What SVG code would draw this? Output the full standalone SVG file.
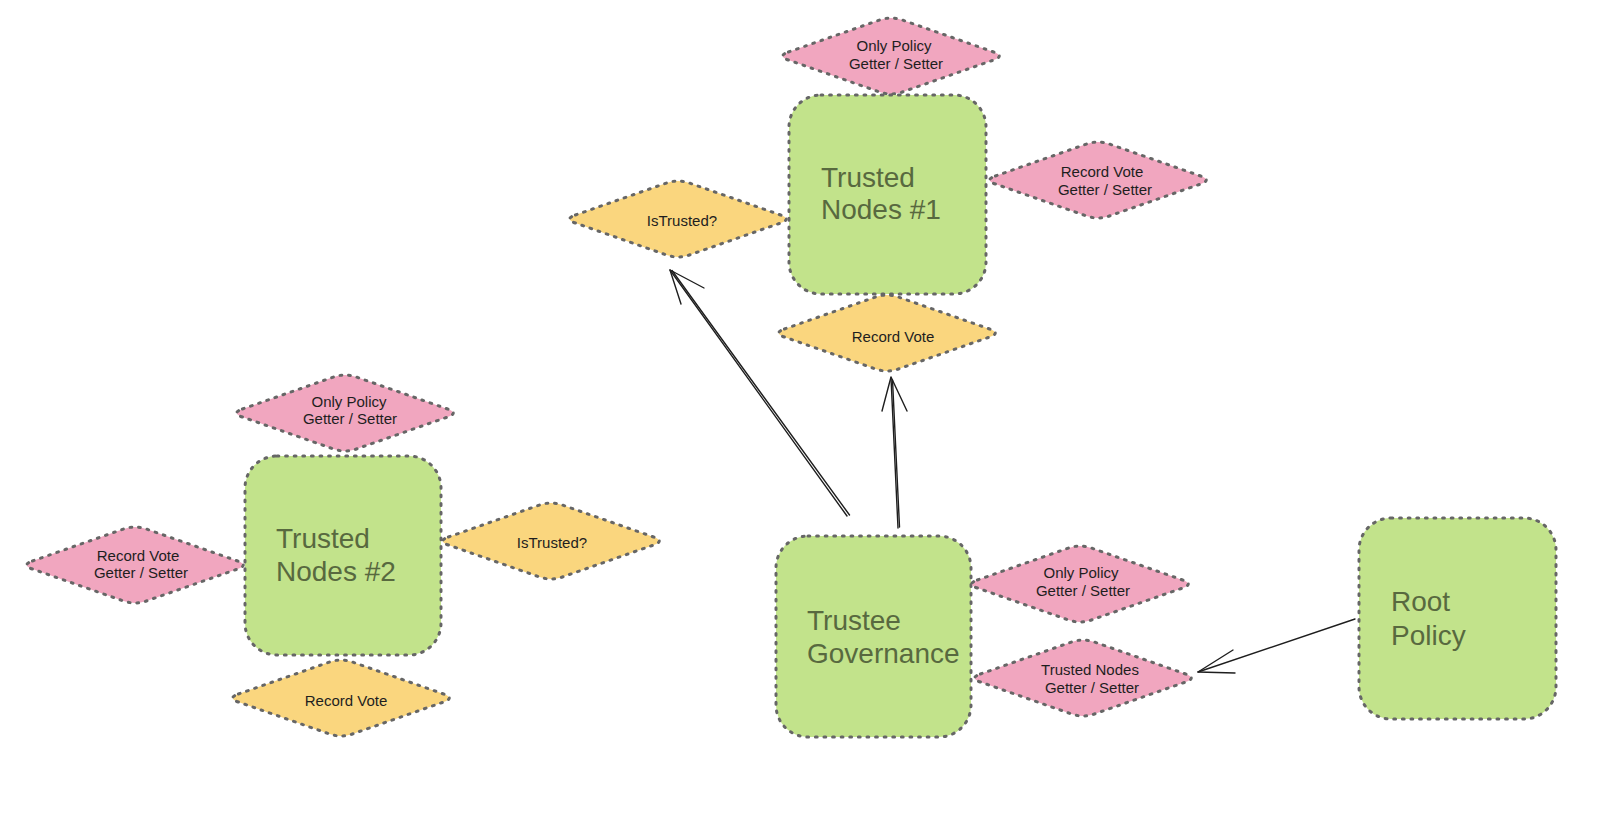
<svg xmlns="http://www.w3.org/2000/svg" xmlns:xlink="http://www.w3.org/1999/xlink" width="1600" height="820" viewBox="0 0 1600 820">
  <style>
    .box { fill: #c2e38b; stroke: #666666; stroke-width: 3; stroke-dasharray: 1.8 6.8; stroke-linecap: round; }
    .pink { fill: #f1a6bf; stroke: #666666; stroke-width: 3; stroke-dasharray: 1.8 6.8; stroke-linecap: round; }
    .yellow { fill: #fad67e; stroke: #666666; stroke-width: 3; stroke-dasharray: 1.8 6.8; stroke-linecap: round; }
    .big { font-family: "Liberation Sans", Arial, sans-serif; font-size: 28px; fill: #58693f; }
    .small { font-family: "Liberation Sans", Arial, sans-serif; font-size: 15px; fill: #1e1e1e; text-anchor: middle; }
    .edge { fill: none; stroke: #1e1e1e; stroke-width: 1.4; stroke-linecap: round; stroke-linejoin: round; }
  </style>
  <defs>
    <!-- rounded diamond centred on the origin -->
    <path id="dia" d="M -102.6,-4 L -11.4,-36 Q 0,-40 11.4,-36 L 102.6,-4 Q 114,0 102.6,4 L 11.4,36 Q 0,40 -11.4,36 L -102.6,4 Q -114,0 -102.6,-4 Z"/>
  </defs>
  <rect width="1600" height="820" fill="#ffffff"/>

  <!-- connectors -->
  <g id="connectors">
    <g id="gov-to-istrusted">
      <path class="edge" d="M 847,516 L 670,270"/>
      <path class="edge" d="M 849.5,515 L 672,270.5"/>
      <path class="edge" d="M 670,270 L 704,288 M 670,270 L 681,304"/>
    </g>
    <g id="gov-to-recordvote">
      <path class="edge" d="M 898,528 L 891,378"/>
      <path class="edge" d="M 899.5,527 L 892.5,380"/>
      <path class="edge" d="M 891,377 L 882,411 M 891,377 L 907,411"/>
    </g>
    <g id="root-to-trustednodes">
      <path class="edge" d="M 1355,619 L 1198,672"/>
      <path class="edge" d="M 1198,672 L 1233,650 M 1198,672 L 1235,673"/>
    </g>
  </g>

  <!-- Trusted Nodes #1 cluster -->
  <g id="only-policy-1">
    <use xlink:href="#dia" class="pink" transform="translate(891,56)"/>
    <text class="small" x="894" y="51">Only Policy</text>
    <text class="small" x="896" y="69">Getter / Setter</text>
  </g>
  <g id="trusted-nodes-1">
    <rect class="box" x="789" y="95" width="197" height="199" rx="32"/>
    <text class="big" x="821" y="187">Trusted</text>
    <text class="big" x="821" y="219">Nodes #1</text>
  </g>
  <g id="record-vote-gs-1">
    <use xlink:href="#dia" class="pink" transform="translate(1098,180)"/>
    <text class="small" x="1102" y="177">Record Vote</text>
    <text class="small" x="1105" y="195">Getter / Setter</text>
  </g>
  <g id="istrusted-1">
    <use xlink:href="#dia" class="yellow" transform="translate(678,219)"/>
    <text class="small" x="682" y="226">IsTrusted?</text>
  </g>
  <g id="record-vote-1">
    <use xlink:href="#dia" class="yellow" transform="translate(887,333)"/>
    <text class="small" x="893" y="342">Record Vote</text>
  </g>

  <!-- Trusted Nodes #2 cluster -->
  <g id="only-policy-2">
    <use xlink:href="#dia" class="pink" transform="translate(345,413)"/>
    <text class="small" x="349" y="407">Only Policy</text>
    <text class="small" x="350" y="424">Getter / Setter</text>
  </g>
  <g id="trusted-nodes-2">
    <rect class="box" x="245" y="456" width="196" height="199" rx="32"/>
    <text class="big" x="276" y="548">Trusted</text>
    <text class="big" x="276" y="581">Nodes #2</text>
  </g>
  <g id="record-vote-gs-2">
    <use xlink:href="#dia" class="pink" transform="translate(135,565)"/>
    <text class="small" x="138" y="561">Record Vote</text>
    <text class="small" x="141" y="578">Getter / Setter</text>
  </g>
  <g id="istrusted-2">
    <use xlink:href="#dia" class="yellow" transform="translate(551,541)"/>
    <text class="small" x="552" y="548">IsTrusted?</text>
  </g>
  <g id="record-vote-2">
    <use xlink:href="#dia" class="yellow" transform="translate(341,698)"/>
    <text class="small" x="346" y="706">Record Vote</text>
  </g>

  <!-- Trustee Governance cluster -->
  <g id="trustee-governance">
    <rect class="box" x="776" y="536" width="195" height="201" rx="32"/>
    <text class="big" x="807" y="630">Trustee</text>
    <text class="big" x="807" y="663">Governance</text>
  </g>
  <g id="only-policy-gov">
    <use xlink:href="#dia" class="pink" transform="translate(1080,584)"/>
    <text class="small" x="1081" y="578">Only Policy</text>
    <text class="small" x="1083" y="596">Getter / Setter</text>
  </g>
  <g id="trusted-nodes-gs">
    <use xlink:href="#dia" class="pink" transform="translate(1083,678)"/>
    <text class="small" x="1090" y="675">Trusted Nodes</text>
    <text class="small" x="1092" y="693">Getter / Setter</text>
  </g>

  <!-- Root Policy -->
  <g id="root-policy">
    <rect class="box" x="1359" y="518" width="197" height="201" rx="32"/>
    <text class="big" x="1391" y="611">Root</text>
    <text class="big" x="1391" y="645">Policy</text>
  </g>
</svg>
